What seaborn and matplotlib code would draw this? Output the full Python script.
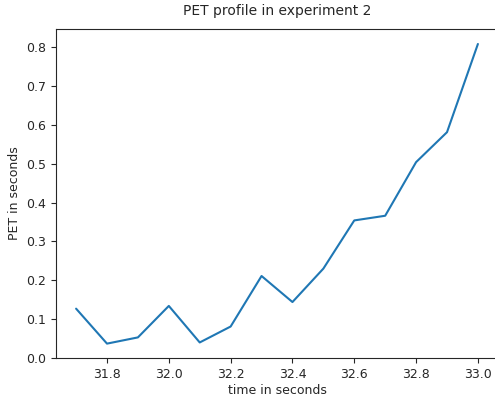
import numpy as np
import pandas as pd
import matplotlib
matplotlib.use("Agg")
import matplotlib.pyplot as plt
import seaborn as sns

tempo = [31.7, 31.8, 31.9, 32.0, 32.1, 32.2, 32.3, 32.4, 32.5, 32.6, 32.7, 32.8, 32.9, 33.0]
pet = [0.127, 0.037, 0.053, 0.134, 0.040, 0.081, 0.211, 0.144, 0.230, 0.354, 0.366, 0.504, 0.581, 0.808]

dados = pd.DataFrame({"tempo": tempo, "pet": pet})

sns.set_style("ticks")
plt.rcParams['font.family'] = ['DejaVu Sans']
plt.rcParams['font.size'] = 9

fig = plt.figure(figsize=(4.95, 4.0), dpi=100)
ax = fig.add_axes([56 / 495, 42 / 400, 442 / 495, 329 / 400])
sns.lineplot(x="tempo", y="pet", data=dados, ax=ax, color="#1f77b4", linewidth=1.5)
ax.set_ylim(bottom=0)
ax.set_xticks([31.8, 32.0, 32.2, 32.4, 32.6, 32.8, 33.0])
ax.set_title("PET profile in experiment 2", fontsize=10, pad=10)
ax.set_xlabel("time in seconds", labelpad=2)
ax.set_ylabel("PET in seconds")

fig.savefig("out.png", dpi=100)
